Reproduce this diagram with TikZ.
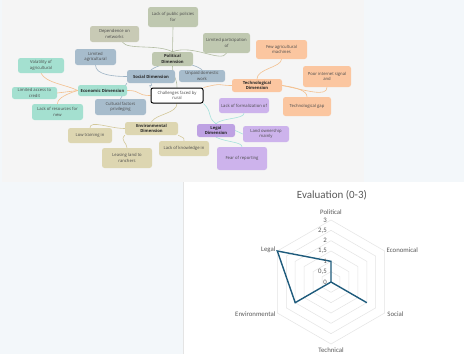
\documentclass[tikz,border=0pt]{standalone}
\usepackage{fontspec}
\setmainfont{Open Sans}
\newfontfamily\chartfont{Carlito}
\usetikzlibrary{backgrounds}
\definecolor{pagebg}{HTML}{F3F7FA}
\definecolor{mmbg}{HTML}{F5F5F5}
\definecolor{sageF}{HTML}{BFC8B0}
\definecolor{depF}{HTML}{C8CAB5}
\definecolor{blueF}{HTML}{A7BCCC}
\definecolor{tealF}{HTML}{A4E0D0}
\definecolor{khakiF}{HTML}{DDD6B1}
\definecolor{peachF}{HTML}{FBC6A0}
\definecolor{lavF}{HTML}{CDB3EC}
\definecolor{legalF}{HTML}{BEA2E3}
\definecolor{txt}{HTML}{4A4A4A}
\definecolor{sageL}{HTML}{B3BDA3}
\definecolor{blueL}{HTML}{9DB3C5}
\definecolor{orangeL}{HTML}{F3C08E}
\definecolor{tanL}{HTML}{D3C89A}
\definecolor{cyanL}{HTML}{A6E2DC}
\definecolor{gridc}{HTML}{E4E4E4}
\definecolor{datac}{HTML}{1E5B7C}
\definecolor{charttxt}{HTML}{595959}
\tikzset{
  mm/.style={rounded corners=2.5pt, align=center, inner sep=0pt, text=txt,
    font=\fontsize{4.2}{5.4}\selectfont},
  dimn/.style={mm, text=black!85, font=\fontsize{4.2}{5.4}\selectfont\bfseries},
  conn/.style={line width=0.6pt},
  gridline/.style={gridc, line width=0.5pt},
  datal/.style={datac, line width=1.4pt, line join=miter},
  axlab/.style={text=charttxt, font=\chartfont\fontsize{6.8}{7.5}\selectfont, inner sep=0pt},
}
\begin{document}
\begin{tikzpicture}[x=1pt,y=-1pt]
\useasboundingbox (0,0) rectangle (464,354);
% ---------- mind map nodes ----------
\node[mm, fill=sageF, minimum width=50pt, minimum height=20pt] (policy) at (173,17) {Lack of public policies\\for};
\node[mm, fill=depF, minimum width=49pt, minimum height=16pt] (dep) at (114.5,34) {Dependence on\\networks};
\node[mm, fill=sageF, minimum width=47pt, minimum height=20pt] (limpart) at (226.5,43) {Limited participation\\of};
\node[dimn, fill=sageF, minimum width=41pt, minimum height=14pt] (pol) at (172.5,59) {Political\\Dimension};
\node[mm, fill=blueF, minimum width=41pt, minimum height=16pt] (limagr) at (95.5,57) {Limited\\agricultural};
\node[mm, fill=tealF, minimum width=46pt, minimum height=15pt] (vol) at (41,65.5) {Volatility of\\agricultural};
\node[dimn, fill=blueF, minimum width=48pt, minimum height=13pt] (soc) at (151,76.5) {Social Dimension};
\node[mm, fill=blueF, minimum width=46pt, minimum height=12pt] (unpaid) at (202,76) {Unpaid domestic\\work};
\node[mm, fill=peachF, minimum width=51pt, minimum height=19pt] (few) at (281.5,49.5) {Few agricultural\\machines};
\node[dimn, fill=peachF, minimum width=50pt, minimum height=13pt] (techdim) at (257,85.5) {Technological\\Dimension};
\node[mm, fill=peachF, minimum width=48pt, minimum height=21pt] (poor) at (327,76.5) {Poor internet signal\\and};
\node[mm, fill=peachF, minimum width=48pt, minimum height=19pt] (techgap) at (307,106.5) {Technological gap};
\node[mm, fill=white, draw=black, line width=1pt, rounded corners=2pt, minimum width=52pt, minimum height=15pt] (center) at (177,95.5) {Challenges faced by\\rural};
\node[dimn, fill=tealF, minimum width=49pt, minimum height=11pt] (econ) at (102.5,90.5) {Economic Dimension};
\node[mm, fill=tealF, minimum width=45pt, minimum height=12pt] (credit) at (34.5,93) {Limited access to\\credit};
\node[mm, fill=tealF, minimum width=51pt, minimum height=16pt] (resources) at (57.5,112) {Lack of resources for\\new};
\node[mm, fill=blueF, minimum width=51pt, minimum height=16pt] (cultural) at (120.5,107) {Cultural factors\\privileging};
\node[dimn, fill=khakiF, minimum width=53pt, minimum height=13pt] (env) at (151.5,128.5) {Environmental\\Dimension};
\node[mm, fill=khakiF, minimum width=44pt, minimum height=15pt] (lowtrain) at (90,135.5) {Low training in};
\node[mm, fill=khakiF, minimum width=50pt, minimum height=20pt] (leasing) at (127,158) {Leasing land to\\ranchers};
\node[mm, fill=khakiF, minimum width=50pt, minimum height=15pt] (knowledge) at (184,148.5) {Lack of knowledge in};
\node[mm, fill=lavF, minimum width=50pt, minimum height=15pt] (formal) at (244,105.5) {Lack of formalization of};
\node[dimn, fill=legalF, minimum width=38pt, minimum height=13pt] (legal) at (216,130.5) {Legal\\Dimension};
\node[mm, fill=lavF, minimum width=46pt, minimum height=16pt] (land) at (266,134) {Land ownership\\mainly};
\node[mm, fill=lavF, minimum width=50pt, minimum height=23pt] (fear) at (242,158.5) {Fear of reporting};
% ---------- backgrounds and connectors ----------
\begin{pgfonlayer}{background}
\fill[pagebg] (0,0) rectangle (464,354);
\fill[mmbg] (2,0) rectangle (364,182);
\fill[white] (183,182) rectangle (464,354);
\draw[gridc, line width=0.8pt] (183,182) -- (183,354);
% political
\draw[conn, sageL] (center.north) .. controls +(0,-10) and +(0,10) .. (pol.south);
\draw[conn, sageL] (pol.north) -- (policy.south);
\draw[conn, sageL] (pol.north) .. controls +(-15,-8) and +(5,8) .. ([xshift=8pt]dep.south);
\draw[conn, sageL] (pol.north) .. controls +(20,-8) and +(-5,10) .. (limpart.south);
% social
\draw[conn, blueL] (center.north west) .. controls +(-3,-5) and +(3,5) .. (soc.south);
\draw[conn, blueL] (soc.west) .. controls +(-12,0) and +(0,10) .. (limagr.south);
\draw[conn, blueL] (soc.north) .. controls +(15,-10) and +(-10,-8) .. (unpaid.north);
\draw[conn, blueL] (soc.south west) .. controls +(-5,8) and +(5,-8) .. (cultural.north);
% economic
\draw[conn, orangeL] (center.west) .. controls +(-15,0) and +(15,0) .. (econ.east);
\draw[conn, orangeL] (econ.west) .. controls +(-12,-6) and +(5,10) .. (vol.south);
\draw[conn, orangeL] (econ.west) -- (credit.east);
\draw[conn, orangeL] (econ.west) .. controls +(-10,3) and +(0,-6) .. (resources.north);
% technological
\draw[conn, orangeL] (center.north east) .. controls +(20,-5) and +(-15,0) .. (techdim.west);
\draw[conn, orangeL] (techdim.north) .. controls +(0,-10) and +(0,8) .. (few.south);
\draw[conn, orangeL] (techdim.east) .. controls +(25,5) and +(0,10) .. (poor.south);
\draw[conn, orangeL] (techdim.east) .. controls +(15,2) and +(0,-6) .. (techgap.north);
% environmental
\draw[conn, tanL] (center.south) .. controls +(0,10) and +(5,-8) .. (env.north);
\draw[conn, tanL] (env.west) .. controls +(-15,0) and +(0,-8) .. (lowtrain.north);
\draw[conn, tanL] (env.south west) .. controls +(-5,5) and +(0,-5) .. (leasing.north);
\draw[conn, tanL] (env.south east) .. controls +(5,3) and +(0,-4) .. (knowledge.north);
% legal
\draw[conn, cyanL] (center.south east) .. controls +(10,10) and +(-10,-8) .. (legal.north);
\draw[conn, cyanL] (legal.north) .. controls +(5,-6) and +(0,6) .. (formal.south);
\draw[conn, cyanL] (legal.east) -- (land.west);
\draw[conn, cyanL] (legal.south) .. controls +(10,5) and +(0,-5) .. (fear.north);
\end{pgfonlayer}
% ---------- radar chart ----------
\node[text=charttxt, font=\chartfont\fontsize{11}{13}\selectfont, inner sep=0pt] (title) at (332,195) {Evaluation (0-3)};
\begin{scope}[shift={(331,282)}, x=1pt, y=1pt]
\foreach \k in {1,...,6}{
  \draw[gridline] (90:{\k*62/6}) -- (30:{\k*62/6}) -- (-30:{\k*62/6}) -- (-90:{\k*62/6}) -- (-150:{\k*62/6}) -- (150:{\k*62/6}) -- cycle;
}
\coordinate (dP) at (90:20.667);
\coordinate (dE) at (0,0);
\coordinate (dS) at (-30:41.333);
\coordinate (dT) at (0,0);
\coordinate (dV) at (210:41.333);
\coordinate (dL) at (150:62);
\draw[datal] (dP) -- (dE) -- (dS) -- (dT) -- (dV) -- (dL) -- cycle;
\node[axlab, anchor=south] (lP) at (90:67) {Political};
\node[axlab, anchor=west] (lE) at (30:64) {Economical};
\node[axlab, anchor=west] (lS) at (-30:65) {Social};
\node[axlab, anchor=north] (lT) at (-90:66) {Technical};
\node[axlab, anchor=east] (lV) at (210:64) {Environmental};
\node[axlab, anchor=east] (lL) at (150:64) {Legal};
\foreach \v/\t in {0/0, 0.5/{0,5}, 1/1, 1.5/{1,5}, 2/2, 2.5/{2,5}, 3/3}{
  \node[axlab, anchor=east] at (-4,{\v*20.667}) {\t};
}
\end{scope}
\end{tikzpicture}
\end{document}
